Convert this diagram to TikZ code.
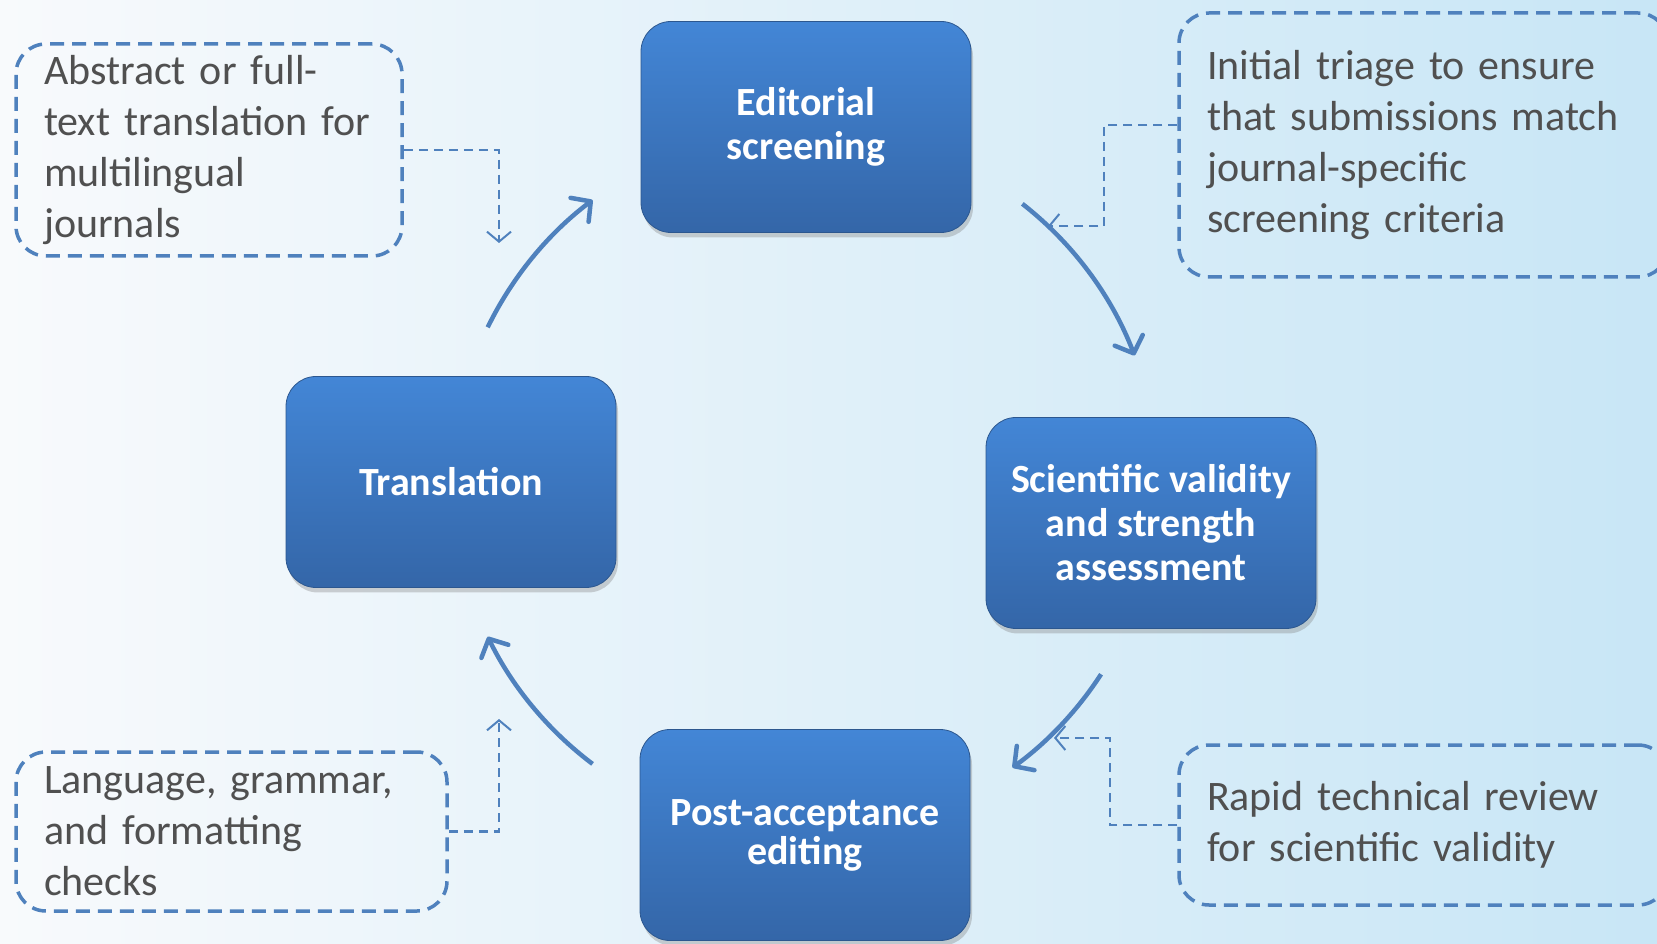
\documentclass[tikz,border=0pt]{standalone}
\usepackage{fontspec}
\setmainfont{Carlito}
\usetikzlibrary{arrows.meta,shadows,calc}

\definecolor{stepTop}{RGB}{67,134,214}
\definecolor{stepBot}{RGB}{52,102,168}
\definecolor{lineBlue}{RGB}{79,129,189}
\definecolor{noteGray}{RGB}{80,80,80}
\definecolor{bgLeft}{RGB}{248,250,252}
\definecolor{bgMid}{RGB}{232,244,251}
\definecolor{bgRight}{RGB}{200,230,246}

\begin{document}
\begin{tikzpicture}[x=1pt, y=1pt,
  stepbox/.style={rounded corners=30pt, minimum width=330pt, minimum height=211pt,
    top color=stepTop, bottom color=stepBot, draw=stepBot!85!black, line width=0.8pt,
    text=white, align=center, font=\fontsize{40}{44}\selectfont\bfseries,
    drop shadow={shadow xshift=2pt, shadow yshift=-5pt, opacity=0.35}},
  notebox/.style={draw=lineBlue, dash pattern=on 14pt off 8pt, line width=3.5pt,
    rounded corners=30pt, text=noteGray, align=left, inner xsep=28pt,
    font=\fontsize{42}{51}\selectfont},
  cycle/.style={lineBlue, line width=4.5pt,
    -{Straight Barb[length=14pt, width=30pt, line width=4.5pt, round]}},
  pointer/.style={lineBlue, line width=2.3pt, dash pattern=on 9pt off 6pt,
    -{Straight Barb[length=10pt, width=24pt, line width=2pt]}}]

\useasboundingbox (0,0) rectangle (1657,943);
\clip (0,0) rectangle (1657,943);
\shade [left color=bgLeft, middle color=bgMid, right color=bgRight] (0,0) rectangle (1657,943);

% the four steps
\node [stepbox] (edit) at (806,816) {Editorial\\screening};
\node [stepbox] (sci) at (1151,420) {Scientific validity\\and strength\\assessment};
\node [stepbox, font=\fontsize{40}{39}\selectfont\bfseries] (post) at (805,108) {Post-acceptance\\editing};
\node [stepbox] (trans) at (451,461) {Translation};

% cycle arrows
\coordinate (ctr) at (805,461);
\coordinate (a1) at ($(ctr)+(154:353)$);
\coordinate (a2) at ($(ctr)+(52:353)$);
\coordinate (a3) at ($(ctr)+(-33:353)$);
\coordinate (a4) at ($(ctr)+(233:353)$);
\draw [cycle] (a1) arc [start angle=154, end angle=127, radius=353];
\draw [cycle] (a2) arc [start angle=52, end angle=21, radius=353];
\draw [cycle] (a3) arc [start angle=-33, end angle=-54, radius=353];
\draw [cycle] (a4) arc [start angle=233, end angle=206, radius=353];

% notes
\node [notebox, text width=330pt, minimum height=212pt] (tlnote) at (209,793)
  {Abstract or full-\\text translation for\\multilingual\\journals};
\node [notebox, text width=433pt, minimum height=264pt] (trnote) at (1423.5,798)
  {Initial triage to ensure\\that submissions match\\journal-specific\\screening criteria};
\node [notebox, text width=375pt, minimum height=159pt] (blnote) at (231.5,111.5)
  {Language, grammar,\\and formatting\\checks};
\node [notebox, text width=433pt, minimum height=160pt] (brnote) at (1423.5,118)
  {Rapid technical review\\for scientific validity};

% pointers
\coordinate (tlend) at (499,700);
\coordinate (trend) at (1048,717);
\coordinate (blend) at (499,224);
\coordinate (brend) at (1054,205);
\draw [pointer] (tlnote.east) -| (tlend);
\draw [pointer] ($(trnote.west)+(0,20)$) -- ++(-73,0) |- (trend);
\draw [pointer] (blnote.east) -| (blend);
\draw [pointer] (brnote.west) -- ++(-67,0) |- (brend);
\end{tikzpicture}
\end{document}
